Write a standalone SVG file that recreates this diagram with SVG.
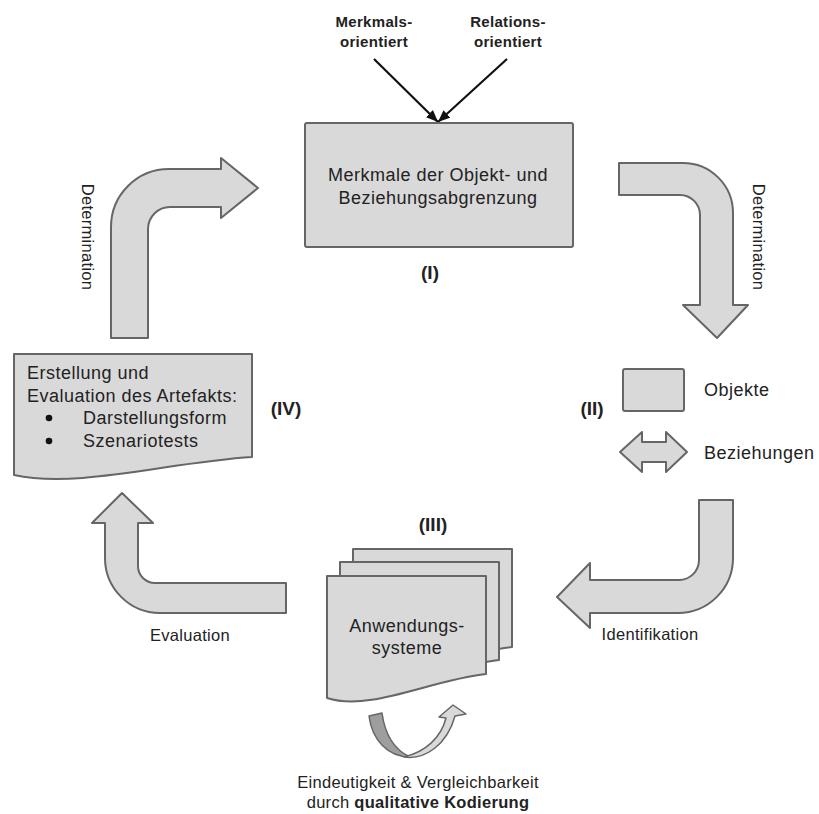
<svg xmlns="http://www.w3.org/2000/svg" width="819" height="814" viewBox="0 0 819 814">
  <style>
    .shape { fill: #d9d9d9; stroke: #666666; stroke-width: 2; stroke-linejoin: round; }
    .txt { font-family: "Liberation Sans", Arial, sans-serif; fill: #222222; }
    .box { font-size: 18px; letter-spacing: 0.5px; }
    .lbl { font-size: 16.5px; letter-spacing: 0.3px; }
    .num { font-size: 19px; font-weight: bold; }
    .head { font-size: 15px; font-weight: bold; letter-spacing: 0.3px; }
    .mid { text-anchor: middle; }
  </style>
  <defs>
    <marker id="tip" viewBox="0 0 12 10" refX="12" refY="5" markerWidth="12" markerHeight="10" markerUnits="userSpaceOnUse" orient="auto">
      <path d="M0,0 L12,5 L0,10 Z" fill="#111111"/>
    </marker>
    <path id="doc" d="M327,576 L486,576 L486,674 C430,680 370,712 327,698 Z"/>
  </defs>

  <!-- Block arrows connecting the four stages -->
  <g id="connectors">
    <path class="shape" d="M111,338 L111,227 A58,58 0 0 1 169,169 L221,169 L221,158 L258,188 L221,218 L221,207 L170,207 A22,22 0 0 0 148,229 L148,338 Z"/>
    <path class="shape" d="M619,163 L683,163 A50,50 0 0 1 733,213 L733,305 L748,305 L717,338 L683,305 L700,305 L700,215 A20,20 0 0 0 680,195 L619,195 Z"/>
    <path class="shape" d="M699,500 L733,500 L733,558 A55,55 0 0 1 678,613 L590,613 L590,628 L557,597 L590,563 L590,580 L679,580 A20,20 0 0 0 699,560 Z"/>
    <path class="shape" d="M286,583 L286,613 L160,613 A55,55 0 0 1 105,558 L105,523 L92,523 L122,493 L153,523 L138,523 L138,566 A17,17 0 0 0 155,583 Z"/>
    <line x1="374" y1="59" x2="438" y2="122" stroke="#111111" stroke-width="2.2" marker-end="url(#tip)"/>
    <line x1="507" y1="59" x2="438" y2="122" stroke="#111111" stroke-width="2.2" marker-end="url(#tip)"/>
    <text class="txt lbl mid" transform="translate(82,237) rotate(90)">Determination</text>
    <text class="txt lbl mid" transform="translate(753,237) rotate(90)">Determination</text>
    <text class="txt lbl mid" x="650" y="640">Identifikation</text>
    <text class="txt lbl mid" x="190" y="641">Evaluation</text>
  </g>

  <!-- Inputs above stage I -->
  <g id="inputs">
    <text class="txt head mid" x="374" y="27">Merkmals-</text>
    <text class="txt head mid" x="374" y="47">orientiert</text>
    <text class="txt head mid" x="508" y="27">Relations-</text>
    <text class="txt head mid" x="508" y="47">orientiert</text>
  </g>

  <!-- Stage I -->
  <g id="stage1">
    <rect class="shape" x="305" y="123" width="268" height="124" rx="2"/>
    <text class="txt box mid" x="438" y="181">Merkmale der Objekt- und</text>
    <text class="txt box mid" x="438" y="204">Beziehungsabgrenzung</text>
    <text class="txt num mid" x="430" y="279">(I)</text>
  </g>

  <!-- Stage II -->
  <g id="stage2">
    <text class="txt num mid" x="592" y="415">(II)</text>
    <rect class="shape" x="623" y="369" width="61" height="42" rx="2"/>
    <text class="txt box" x="704" y="396">Objekte</text>
    <path class="shape" d="M620,452 L642,432 L642,442 L666,442 L666,432 L687,452 L666,472 L666,462 L642,462 L642,472 Z"/>
    <text class="txt box" x="704" y="459">Beziehungen</text>
  </g>

  <!-- Stage III -->
  <g id="stage3">
    <text class="txt num mid" x="433" y="531">(III)</text>
    <use href="#doc" class="shape" transform="translate(26,-27)"/>
    <use href="#doc" class="shape" transform="translate(13,-14)"/>
    <use href="#doc" class="shape"/>
    <text class="txt box mid" x="407" y="632">Anwendungs-</text>
    <text class="txt box mid" x="407" y="654">systeme</text>
    <path d="M369,716 L382,713 C385,735 395,750 410,757 C388,757 372,740 369,716 Z" fill="#9e9e9e" stroke="#666666" stroke-width="1.5" stroke-linejoin="round"/>
    <path d="M404,757 C425,760 447,745 455,716 L466,714 L453,705 L439,717 L446,718 C441,738 425,752 404,757 Z" fill="#d9d9d9" stroke="#666666" stroke-width="1.5" stroke-linejoin="round"/>
    <text class="txt lbl mid" x="418" y="788">Eindeutigkeit &amp; Vergleichbarkeit</text>
    <text class="txt lbl mid" x="418" y="808">durch <tspan font-weight="bold">qualitative Kodierung</tspan></text>
  </g>

  <!-- Stage IV -->
  <g id="stage4">
    <path class="shape" d="M14,354 L252,354 L252,457 C169,462 78,489 14,475 Z"/>
    <text class="txt box" x="27" y="379">Erstellung und</text>
    <text class="txt box" x="27" y="402">Evaluation des Artefakts:</text>
    <circle cx="49" cy="418" r="3.3" fill="#111111"/>
    <text class="txt box" x="83" y="424">Darstellungsform</text>
    <circle cx="49" cy="441" r="3.3" fill="#111111"/>
    <text class="txt box" x="83" y="447">Szenariotests</text>
    <text class="txt num mid" x="286" y="415">(IV)</text>
  </g>
</svg>
